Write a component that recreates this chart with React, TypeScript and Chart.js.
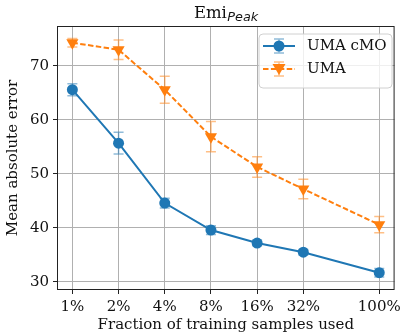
import React, { useEffect, useRef } from "react";
import { Chart, registerables } from "chart.js";

Chart.register(...registerables);

const fractions = [1, 2, 4, 8, 16, 32, 100];
const tickLabels = ["1%", "2%", "4%", "8%", "16%", "32%", "100%"];
const cmoValues = [65.6, 55.7, 44.6, 39.6, 37.2, 35.5, 31.7];
const cmoErrors = [1.1, 2.0, 0.9, 0.8, 0.5, 0.5, 0.8];
const umaValues = [74.3, 73.0, 65.6, 56.9, 51.3, 47.2, 40.6];
const umaErrors = [0.8, 1.8, 2.5, 2.8, 1.9, 1.8, 1.5];
const yTicks = [30, 40, 50, 60, 70];

const BLUE = "#1f77b4";
const ORANGE = "#ff7f0e";
const SERIF = "'DejaVu Serif', serif";

const errorBarPlugin = {
  id: "errorBars",
  beforeDatasetsDraw(chart: any) {
    const ctx = chart.ctx;
    const xs = chart.scales.x;
    const ys = chart.scales.y;
    const sets = [
      { v: cmoValues, e: cmoErrors, c: "rgba(31,119,180,0.5)" },
      { v: umaValues, e: umaErrors, c: "rgba(255,127,14,0.5)" },
    ];
    ctx.save();
    ctx.lineWidth = 1.5;
    sets.forEach((s) => {
      ctx.strokeStyle = s.c;
      fractions.forEach((f, i) => {
        const x = xs.getPixelForValue(f);
        const y1 = ys.getPixelForValue(s.v[i] + s.e[i]);
        const y2 = ys.getPixelForValue(s.v[i] - s.e[i]);
        ctx.beginPath();
        ctx.moveTo(x, y1);
        ctx.lineTo(x, y2);
        ctx.moveTo(x - 5, y1);
        ctx.lineTo(x + 5, y1);
        ctx.moveTo(x - 5, y2);
        ctx.lineTo(x + 5, y2);
        ctx.stroke();
      });
    });
    ctx.restore();
  },
};

const framePlugin = {
  id: "frameTitleLegend",
  afterDraw(chart: any) {
    const ctx = chart.ctx;
    const a = chart.chartArea;
    ctx.save();
    ctx.strokeStyle = "#222";
    ctx.lineWidth = 1;
    ctx.strokeRect(a.left + 0.5, a.top + 0.5, a.right - a.left - 1, a.bottom - a.top - 1);

    // title
    const cx = (a.left + a.right) / 2;
    ctx.fillStyle = "#111";
    ctx.textBaseline = "alphabetic";
    const f1 = `16.5px ${SERIF}`;
    const f2 = `italic 12.8px 'DejaVu Sans', sans-serif`;
    ctx.font = f1;
    const t1 = "Emi";
    const w1 = ctx.measureText(t1).width;
    ctx.font = f2;
    const t2 = "Peak";
    const w2 = ctx.measureText(t2).width;
    const start = cx - (w1 + w2) / 2;
    ctx.textAlign = "left";
    ctx.font = f1;
    ctx.fillText(t1, start, 18);
    ctx.font = f2;
    ctx.fillText(t2, start + w1 + 0.5, 20.5);

    // legend
    const lx = 259, ly = 34, lw = 133, lh = 54;
    ctx.beginPath();
    const r = 4;
    ctx.moveTo(lx + r, ly);
    ctx.arcTo(lx + lw, ly, lx + lw, ly + lh, r);
    ctx.arcTo(lx + lw, ly + lh, lx, ly + lh, r);
    ctx.arcTo(lx, ly + lh, lx, ly, r);
    ctx.arcTo(lx, ly, lx + lw, ly, r);
    ctx.closePath();
    ctx.fillStyle = "rgba(255,255,255,0.8)";
    ctx.fill();
    ctx.strokeStyle = "#d0d0d0";
    ctx.lineWidth = 1;
    ctx.stroke();

    const entries = [
      { label: "UMA cMO", color: BLUE, ec: "rgba(31,119,180,0.5)", dash: [] as number[], marker: "circle", y: 46 },
      { label: "UMA", color: ORANGE, ec: "rgba(255,127,14,0.5)", dash: [5.5, 2.4], marker: "tri", y: 69 },
    ];
    entries.forEach((en) => {
      const x0 = 263, x1 = 295, mx = 279;
      ctx.strokeStyle = en.ec;
      ctx.lineWidth = 1.5;
      ctx.setLineDash([]);
      ctx.beginPath();
      ctx.moveTo(mx, en.y - 7);
      ctx.lineTo(mx, en.y + 7);
      ctx.moveTo(mx - 5, en.y - 7);
      ctx.lineTo(mx + 5, en.y - 7);
      ctx.moveTo(mx - 5, en.y + 7);
      ctx.lineTo(mx + 5, en.y + 7);
      ctx.stroke();
      ctx.strokeStyle = en.color;
      ctx.lineWidth = 2;
      ctx.setLineDash(en.dash);
      ctx.beginPath();
      ctx.moveTo(x0, en.y);
      ctx.lineTo(x1, en.y);
      ctx.stroke();
      ctx.setLineDash([]);
      ctx.fillStyle = en.color;
      ctx.beginPath();
      if (en.marker === "circle") {
        ctx.arc(mx, en.y, 5.5, 0, Math.PI * 2);
      } else {
        ctx.moveTo(mx - 6.5, en.y - 5);
        ctx.lineTo(mx + 6.5, en.y - 5);
        ctx.lineTo(mx, en.y + 6);
        ctx.closePath();
      }
      ctx.fill();
      ctx.fillStyle = "#111";
      ctx.font = `15px ${SERIF}`;
      ctx.textBaseline = "middle";
      ctx.fillText(en.label, 307, en.y);
    });
    ctx.restore();
  },
};

export default function App() {
  const ref = useRef<HTMLCanvasElement | null>(null);
  useEffect(() => {
    if (!ref.current) return;
    const chart = new Chart(ref.current, {
      type: "line",
      data: {
        datasets: [
          {
            label: "UMA cMO",
            data: fractions.map((f, i) => ({ x: f, y: cmoValues[i] })),
            borderColor: BLUE,
            backgroundColor: BLUE,
            borderWidth: 2,
            pointStyle: "circle",
            pointRadius: 5.5,
            pointBorderWidth: 0,
            tension: 0,
          },
          {
            label: "UMA",
            data: fractions.map((f, i) => ({ x: f, y: umaValues[i] })),
            borderColor: ORANGE,
            backgroundColor: ORANGE,
            borderWidth: 2,
            borderDash: [5.5, 2.4],
            pointStyle: "triangle",
            rotation: 180,
            pointRadius: 7,
            pointBorderWidth: 0,
            tension: 0,
          },
        ],
      },
      options: {
        animation: false,
        responsive: false,
        maintainAspectRatio: false,
        layout: { padding: { left: 0, right: 4, top: 26, bottom: 0 } },
        plugins: {
          legend: { display: false },
          title: { display: false },
          tooltip: { enabled: false },
        },
        scales: {
          x: {
            type: "logarithmic",
            min: 0.794,
            max: 125.9,
            afterBuildTicks: (s: any) => {
              s.ticks = fractions.map((v) => ({ value: v }));
            },
            afterFit: (s: any) => {
              s.height = 44;
            },
            ticks: {
              autoSkip: false,
              maxRotation: 0,
              color: "#111",
              padding: 4,
              font: { family: SERIF, size: 15 },
              callback: (v: any) => {
                const i = fractions.indexOf(Number(v));
                return i >= 0 ? tickLabels[i] : "";
              },
            },
            grid: { color: "#b0b0b0", lineWidth: 1, tickLength: 4, tickColor: "#222" },
            border: { display: false },
            title: {
              display: true,
              text: "Fraction of training samples used",
              color: "#111",
              font: { family: SERIF, size: 15 },
              padding: { top: 1, bottom: 0 },
            },
          },
          y: {
            type: "linear",
            min: 28.5,
            max: 77.4,
            afterBuildTicks: (s: any) => {
              s.ticks = yTicks.map((v) => ({ value: v }));
            },
            afterFit: (s: any) => {
              s.width = 57;
            },
            ticks: {
              color: "#111",
              padding: 4,
              font: { family: SERIF, size: 15 },
            },
            grid: { color: "#b0b0b0", lineWidth: 1, tickLength: 4, tickColor: "#222" },
            border: { display: false },
            title: {
              display: true,
              text: "Mean absolute error",
              color: "#111",
              font: { family: SERIF, size: 15 },
              padding: { top: 4, bottom: 2 },
            },
          },
        },
      },
      plugins: [errorBarPlugin, framePlugin],
    } as any);
    return () => chart.destroy();
  }, []);
  return (
    <div style={{ position: "fixed", left: 0, top: 0, width: 405, height: 334 }}>
      <canvas ref={ref} width={405} height={334} style={{ width: 405, height: 334 }} />
    </div>
  );
}
